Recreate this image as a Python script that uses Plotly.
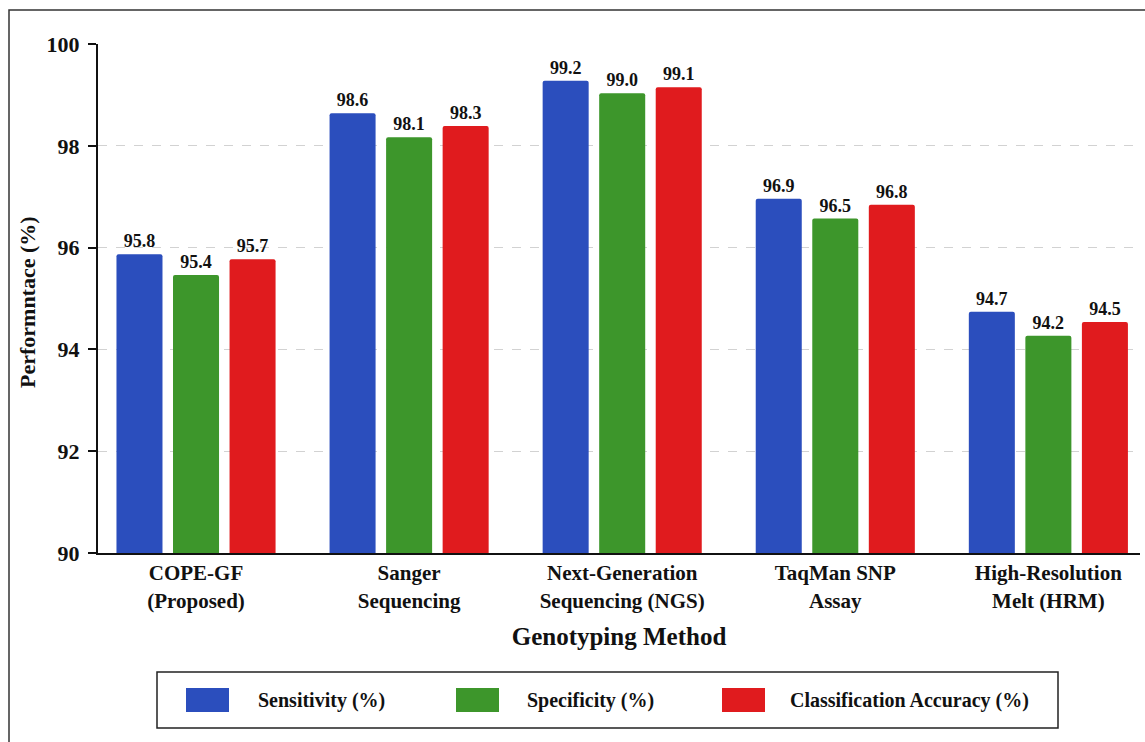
import plotly.graph_objects as go

categories = ["COPE-GF<br>(Proposed)", "Sanger<br>Sequencing", "Next-Generation<br>Sequencing (NGS)",
              "TaqMan SNP<br>Assay", "High-Resolution<br>Melt (HRM)"]
series_names = ["Sensitivity (%)", "Specificity (%)", "Classification Accuracy (%)"]
sensitivity = [95.87, 98.64, 99.28, 96.96, 94.74]
specificity = [95.46, 98.17, 99.03, 96.57, 94.27]
accuracy = [95.77, 98.39, 99.15, 96.84, 94.54]
sensitivity_labels = ["95.8", "98.6", "99.2", "96.9", "94.7"]
specificity_labels = ["95.4", "98.1", "99.0", "96.5", "94.2"]
accuracy_labels = ["95.7", "98.3", "99.1", "96.8", "94.5"]
y_ticks = [90, 92, 94, 96, 98, 100]

colors = ["#2b4ebd", "#3d962b", "#e01b1e"]
FONT = "Liberation Serif, Times New Roman, serif"

W, H = 1145, 742
L, R, T, B = 98, 5, 44, 189
PW, PH = W - L - R, H - T - B


def px(x):
    return (x - L) / PW


def py(y):
    return 1 - (y - T) / PH


fig = go.Figure()
for name, vals, labs, col in zip(series_names, [sensitivity, specificity, accuracy],
                                 [sensitivity_labels, specificity_labels, accuracy_labels], colors):
    fig.add_trace(go.Bar(
        x=list(range(len(categories))), y=vals, name=name, text=labs,
        textposition="outside", cliponaxis=False,
        textfont=dict(family=FONT, size=18, color="#111111", weight="bold"),
        marker=dict(color=col, cornerradius=2, line=dict(width=0)),
        showlegend=False, hoverinfo="skip",
    ))

shapes = [
    # outer frame
    dict(type="rect", xref="paper", yref="paper", x0=px(9), x1=px(1160), y0=py(760), y1=py(10),
         line=dict(color="#333333", width=1.5), fillcolor="rgba(0,0,0,0)", layer="below"),
    # legend box
    dict(type="rect", xref="paper", yref="paper", x0=px(157), x1=px(1058), y0=py(728), y1=py(672),
         line=dict(color="#222222", width=1.5), fillcolor="white"),
]
annotations = []
swatch_x = [186, 456, 722]
text_x = [256, 525, 788]
for sx, tx, name, col in zip(swatch_x, text_x, series_names, colors):
    shapes.append(dict(type="rect", xref="paper", yref="paper", x0=px(sx), x1=px(sx + 43),
                       y0=py(712), y1=py(688), line=dict(width=0), fillcolor=col))
    annotations.append(dict(xref="paper", yref="paper", x=px(tx), y=py(700), text=name,
                            showarrow=False, xanchor="left", yanchor="middle",
                            font=dict(family=FONT, size=20, color="#111111", weight="bold")))

annotations.append(dict(xref="paper", yref="paper", x=px(27), y=py(302), text="Performntace (%)",
                        showarrow=False, textangle=-90, xanchor="center", yanchor="middle",
                        font=dict(family=FONT, size=22, color="#111111", weight="bold")))

fig.update_layout(
    width=W, height=H,
    margin=dict(l=L, r=R, t=T, b=B, autoexpand=False),
    paper_bgcolor="white", plot_bgcolor="white",
    barmode="group", bargap=0.204, bargroupgap=0.186,
    shapes=shapes, annotations=annotations,
    xaxis=dict(
        tickmode="array", tickvals=list(range(len(categories))), ticktext=categories,
        range=[-0.46, 4.43], showline=True, linecolor="#111111", linewidth=2,
        ticks="", showgrid=False, zeroline=False,
        tickfont=dict(family=FONT, size=21, color="#111111", weight="bold"),
        title=dict(text="Genotyping Method", standoff=16,
                   font=dict(family=FONT, size=25, color="#111111", weight="bold")),
    ),
    yaxis=dict(
        range=[90, 100], tickvals=y_ticks, showline=True, linecolor="#111111", linewidth=2,
        ticks="outside", ticklen=8, tickwidth=2, tickcolor="#111111",
        showgrid=True, gridcolor="#d2d2d2", gridwidth=1, griddash="dash", zeroline=False,
        tickfont=dict(family=FONT, size=22, color="#111111", weight="bold"),
        ticklabelstandoff=4,
    ),
)

fig.write_html("out.html", config={"displayModeBar": False},
               post_script="document.body.style.margin='0';document.body.style.overflow='hidden';")
